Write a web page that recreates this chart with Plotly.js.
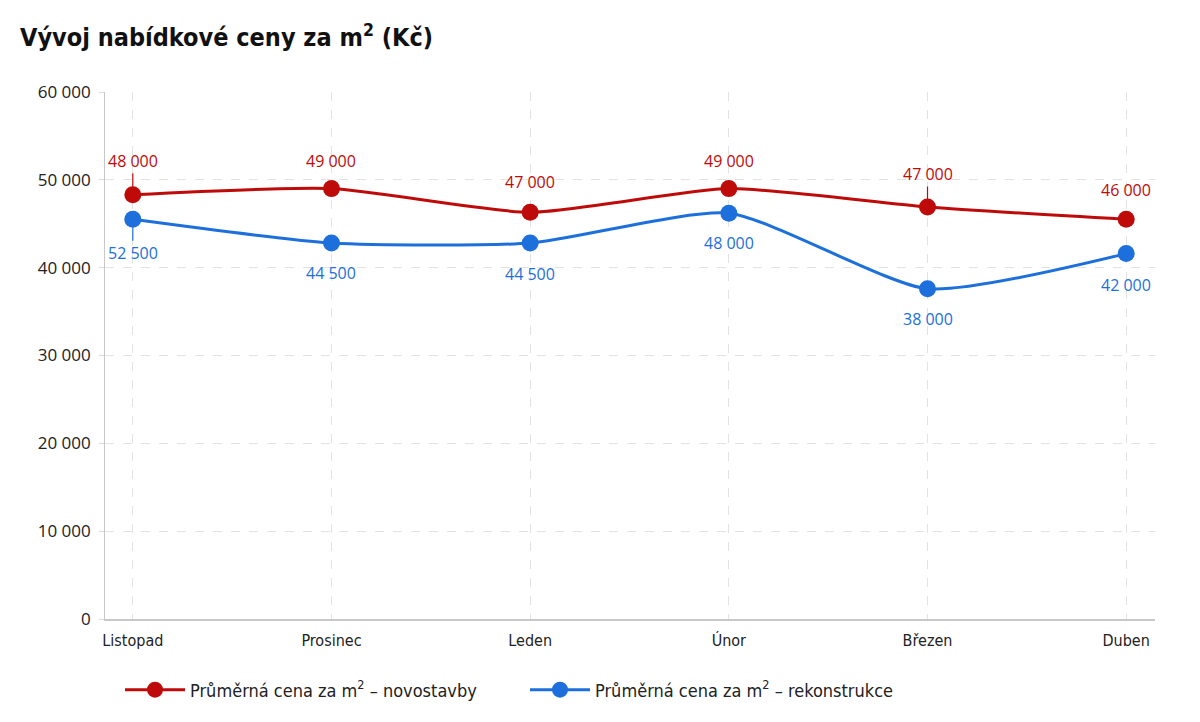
<!DOCTYPE html>
<html><head><meta charset="utf-8">
<script src="https://cdn.plot.ly/plotly-3.0.1.min.js"></script>
<style>body{margin:0;background:#fff}#chart{width:1200px;height:722px}</style>
</head><body><div id="chart"></div>
<script>
const months = ["Listopad", "Prosinec", "Leden", "Únor", "Březen", "Duben"];
const newBuild = [48300, 49000, 46300, 49000, 46900, 45500];
const renovated = [45500, 42800, 42800, 46200, 37600, 41600];
const newBuildLabels = ["48 000", "49 000", "47 000", "49 000", "47 000", "46 000"];
const renovatedLabels = ["52 500", "44 500", "44 500", "48 000", "38 000", "42 000"];
const seriesNames = ["Průměrná cena za m<sup>2</sup> – novostavby", "Průměrná cena za m<sup>2</sup> – rekonstrukce"];

const RED = "#bf0a0a", BLUE = "#1d6fdc";
const narrow = "DejaVu Sans Condensed, Liberation Sans Narrow, sans-serif";
const labelFont = "Open Sans, Noto Sans, sans-serif";

function tr(y, name, color) {
  return {x: months, y: y, name: name, type: "scatter", mode: "lines+markers",
    line: {color: color, width: 3, shape: "spline", smoothing: 0.6},
    marker: {color: color, size: 17}, hoverinfo: "skip"};
}

const annotations = [];
const redArrow = {0: -34, 4: -33};
const blueArrow = {0: 34};
const redShift = [0, 28, 30, 28, 0, 29];
const blueShift = [0, -30, -31, -30, -30, -31];
months.forEach((m, i) => {
  const rf = {family: labelFont, size: 16, color: RED};
  const bf = {family: labelFont, size: 16, color: BLUE};
  if (redArrow[i] !== undefined) {
    annotations.push({x: m, y: newBuild[i], text: newBuildLabels[i], showarrow: true, arrowhead: 0,
      arrowwidth: 1.2, arrowcolor: RED, ax: 0, ay: redArrow[i], standoff: 8, font: rf});
  } else {
    annotations.push({x: m, y: newBuild[i], text: newBuildLabels[i], showarrow: false, yshift: redShift[i], font: rf});
  }
  if (blueArrow[i] !== undefined) {
    annotations.push({x: m, y: renovated[i], text: renovatedLabels[i], showarrow: true, arrowhead: 0,
      arrowwidth: 1.2, arrowcolor: BLUE, ax: 0, ay: blueArrow[i], standoff: 8, font: bf});
  } else {
    annotations.push({x: m, y: renovated[i], text: renovatedLabels[i], showarrow: false, yshift: blueShift[i], font: bf});
  }
});

const layout = {
  width: 1200, height: 722,
  paper_bgcolor: "#fff", plot_bgcolor: "#fff",
  separators: ". ",
  margin: {l: 105, r: 45, t: 92, b: 103},
  title: {text: "<b>Vývoj nabídkové ceny za m<sup>2</sup> (Kč)</b>", x: 20/1200, xanchor: "left", y: 0.948, yanchor: "middle",
    font: {family: narrow, size: 25, color: "#111"}},
  xaxis: {type: "category", range: [-0.14, 5.145], showgrid: true, gridcolor: "#e2e2e2", griddash: "dash", gridwidth: 1,
    showline: true, linecolor: "#c8c8c8", linewidth: 1.5, ticks: "", zeroline: false, ticklabelstandoff: 6,
    tickfont: {family: narrow, size: 16, color: "#222"}, fixedrange: true},
  yaxis: {range: [0, 60000], dtick: 10000, tick0: 0, showgrid: true, gridcolor: "#e2e2e2", griddash: "dash",
    showline: true, linecolor: "#c8c8c8", linewidth: 1.5, ticks: "outside", ticklen: 5, tickcolor: "#d8d8d8",
    zeroline: false, tickformat: ",d", ticksuffix: " ",
    tickfont: {family: "Open Sans, DejaVu Sans, sans-serif", size: 17, color: "#222"}, fixedrange: true},
  legend: {orientation: "h", x: 0.0143, xanchor: "left", yref: "container", y: 0.0443, yanchor: "middle",
    font: {family: narrow, size: 18, color: "#222"}, itemwidth: 60, entrywidth: 330, entrywidthmode: "pixels"},
  showlegend: true,
  annotations: annotations
};

Plotly.newPlot("chart", [tr(newBuild, seriesNames[0], RED), tr(renovated, seriesNames[1], BLUE)], layout, {displayModeBar: false, staticPlot: true});
</script></body></html>
